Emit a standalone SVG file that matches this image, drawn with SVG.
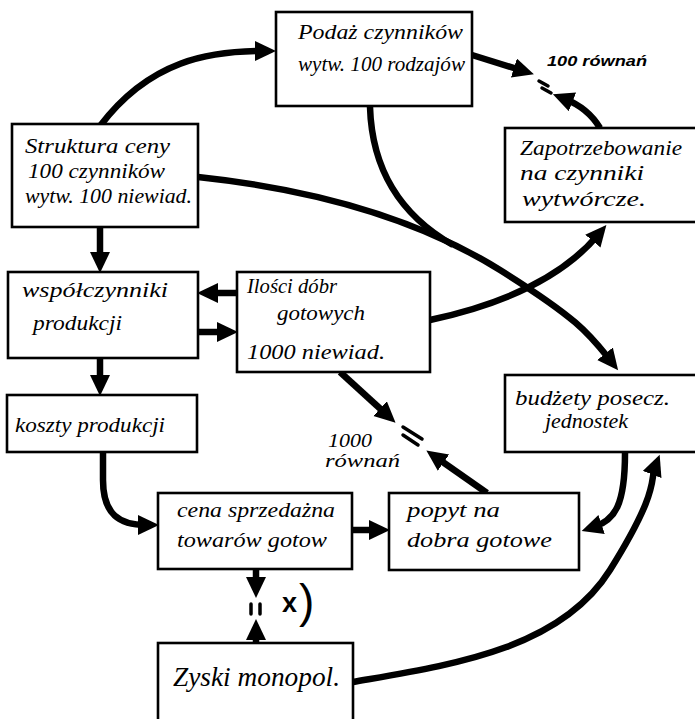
<svg xmlns="http://www.w3.org/2000/svg" width="695" height="719" viewBox="0 0 695 719">
  <style>
    .box { fill: #fff; stroke: #000; stroke-width: 2.6; }
    .lbl { font-family: "Liberation Serif", "DejaVu Serif", serif; font-style: italic; font-size: 21px; fill: #000; }
    .big { font-size: 27px; }
    .note { font-family: "Liberation Serif", "DejaVu Serif", serif; font-style: italic; font-size: 18px; fill: #000; }
    .small { font-family: "Liberation Sans", "DejaVu Sans", sans-serif; font-weight: bold; font-style: italic; font-size: 14px; fill: #000; }
    .mark { font-family: "Liberation Sans", "DejaVu Sans", sans-serif; fill: #000; }
    .wire { fill: none; stroke: #000; stroke-width: 6.5; }
    .arrow { marker-end: url(#head); }
    .eq { stroke: #000; stroke-width: 3.5; stroke-linecap: round; }
  </style>
  <defs>
    <marker id="head" markerUnits="userSpaceOnUse" markerWidth="22" markerHeight="22" refX="8" refY="10" orient="auto">
      <path d="M0,0 L21,10 L0,20 z" fill="#000"/>
    </marker>
  </defs>
  <rect width="695" height="719" fill="#fff"/>

  <!-- connectors -->
  <g id="connectors">
    <path class="wire arrow" d="M100,126 C150,60 210,51 263,51"/>
    <path class="wire arrow" d="M472,55 L521.5,70.4"/>
    <path class="wire arrow" d="M600,128 Q588,108 565,99"/>
    <path class="wire" d="M370,107 C372,170 400,215 453,245"/>
    <path class="wire arrow" d="M198,177 C320,190 420,220 500,270 S590,335 610,360"/>
    <path class="wire arrow" d="M430,320 C500,305 560,280 598,235"/>
    <path class="wire arrow" d="M340,372 L386,414"/>
    <path class="wire arrow" d="M487,493 L437,458"/>
    <path class="wire arrow" d="M625,453 C625,505 615,520 594,527"/>
    <path class="wire arrow" d="M353,682 C450,665 560,650 610,570 S650,480 655,467"/>
    <path class="wire arrow" d="M103,452 L103,480 C103,515 120,525 146,525"/>
    <path class="wire arrow" d="M352,530 L377,530"/>
    <path class="wire arrow" d="M256,569 L256,585"/>
    <path class="wire arrow" d="M256,643 L256,632"/>
    <path class="wire arrow" d="M100,227 L100,260"/>
    <path class="wire arrow" d="M100,358 L100,383"/>
    <path class="wire arrow" d="M237,293 L210,293"/>
    <path class="wire arrow" d="M198,332 L225,332"/>
  </g>

  <!-- equality marks and notes -->
  <g id="eq-top">
    <line class="eq" x1="539" y1="81" x2="548" y2="86"/>
    <line class="eq" x1="542" y1="88" x2="551" y2="93"/>
    <text class="small" x="547" y="66" textLength="100" lengthAdjust="spacingAndGlyphs">100 równań</text>
  </g>
  <g id="eq-mid">
    <line class="eq" x1="403" y1="427" x2="422" y2="439"/>
    <line class="eq" x1="403" y1="435" x2="418" y2="445"/>
    <text class="note" x="328" y="447" textLength="44" lengthAdjust="spacingAndGlyphs">1000</text>
    <text class="note" x="325" y="467" textLength="75" lengthAdjust="spacingAndGlyphs">równań</text>
  </g>
  <g id="eq-bottom">
    <line class="eq" x1="251" y1="604" x2="251" y2="614"/>
    <line class="eq" x1="260" y1="604" x2="260" y2="614"/>
    <text class="mark" x="282" y="612" style="font-size:27px;font-weight:bold">x</text>
    <text class="mark" x="299" y="617" style="font-size:46px">)</text>
  </g>

  <!-- nodes -->
  <g id="podaz">
    <rect class="box" x="276" y="12" width="196" height="94"/>
    <text class="lbl" x="298" y="39" textLength="165" lengthAdjust="spacingAndGlyphs">Podaż czynników</text>
    <text class="lbl" x="298" y="71" textLength="167" lengthAdjust="spacingAndGlyphs">wytw. 100 rodzajów</text>
  </g>
  <g id="zapotrzebowanie">
    <rect class="box" x="505" y="128" width="192" height="94"/>
    <text class="lbl" x="520" y="155" textLength="162" lengthAdjust="spacingAndGlyphs">Zapotrzebowanie</text>
    <text class="lbl" x="520" y="180" textLength="124" lengthAdjust="spacingAndGlyphs">na czynniki</text>
    <text class="lbl" x="522" y="206" textLength="124" lengthAdjust="spacingAndGlyphs">wytwórcze.</text>
  </g>
  <g id="struktura">
    <rect class="box" x="12" y="124" width="186" height="103"/>
    <text class="lbl" x="25" y="153" textLength="145" lengthAdjust="spacingAndGlyphs">Struktura ceny</text>
    <text class="lbl" x="28" y="178" textLength="137" lengthAdjust="spacingAndGlyphs">100 czynników</text>
    <text class="lbl" x="25" y="203" textLength="167" lengthAdjust="spacingAndGlyphs">wytw. 100 niewiad.</text>
  </g>
  <g id="wspolczynniki">
    <rect class="box" x="8" y="272" width="190" height="86"/>
    <text class="lbl" x="22" y="297" textLength="146" lengthAdjust="spacingAndGlyphs">współczynniki</text>
    <text class="lbl" x="33" y="330" textLength="89" lengthAdjust="spacingAndGlyphs">produkcji</text>
  </g>
  <g id="ilosci">
    <rect class="box" x="237" y="272" width="193" height="100"/>
    <text class="lbl" x="247" y="293" textLength="90" lengthAdjust="spacingAndGlyphs">Ilości dóbr</text>
    <text class="lbl" x="277" y="320" textLength="88" lengthAdjust="spacingAndGlyphs">gotowych</text>
    <text class="lbl" x="247" y="359" textLength="138" lengthAdjust="spacingAndGlyphs">1000 niewiad.</text>
  </g>
  <g id="koszty">
    <rect class="box" x="7" y="395" width="190" height="57"/>
    <text class="lbl" x="15" y="432" textLength="150" lengthAdjust="spacingAndGlyphs">koszty produkcji</text>
  </g>
  <g id="budzety">
    <rect class="box" x="505" y="375" width="192" height="77"/>
    <text class="lbl" x="515" y="405" textLength="155" lengthAdjust="spacingAndGlyphs">budżety posecz.</text>
    <text class="lbl" x="545" y="428" textLength="83" lengthAdjust="spacingAndGlyphs">jednostek</text>
  </g>
  <g id="cena">
    <rect class="box" x="158" y="493" width="194" height="76"/>
    <text class="lbl" x="177" y="517" textLength="158" lengthAdjust="spacingAndGlyphs">cena sprzedażna</text>
    <text class="lbl" x="177" y="547" textLength="150" lengthAdjust="spacingAndGlyphs">towarów gotow</text>
  </g>
  <g id="popyt">
    <rect class="box" x="389" y="493" width="190" height="77"/>
    <text class="lbl" x="407" y="517" textLength="93" lengthAdjust="spacingAndGlyphs">popyt na</text>
    <text class="lbl" x="407" y="547" textLength="145" lengthAdjust="spacingAndGlyphs">dobra gotowe</text>
  </g>
  <g id="zyski">
    <rect class="box" x="158" y="643" width="195" height="90"/>
    <text class="lbl big" x="173" y="686" textLength="167" lengthAdjust="spacingAndGlyphs">Zyski monopol.</text>
  </g>
</svg>
